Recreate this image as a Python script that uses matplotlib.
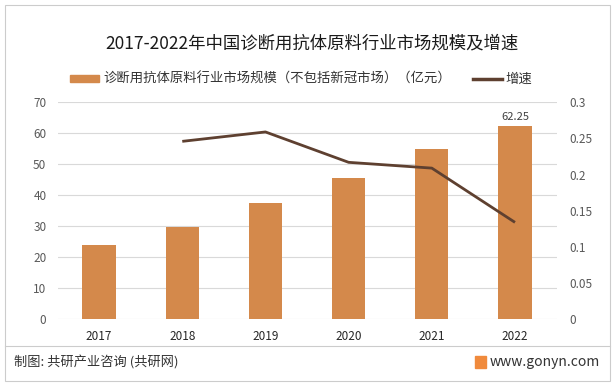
import numpy as np
import matplotlib
matplotlib.use('Agg')
import matplotlib.pyplot as plt
from matplotlib.patches import Rectangle
from matplotlib.lines import Line2D

plt.rcParams['font.family'] = ['Noto Sans CJK SC', 'DejaVu Sans']

years = ['2017', '2018', '2019', '2020', '2021', '2022']
market_size = [24.0, 29.9, 37.5, 45.6, 54.9, 62.25]
growth = [np.nan, 0.246, 0.259, 0.217, 0.209, 0.134]

bar_color = '#D4894B'
line_color = '#5E4030'

fig = plt.figure(figsize=(6.15, 3.86), dpi=100)
ax = fig.add_axes([0.0935, 0.1728, 0.8115, 0.5622])
ax2 = ax.twinx()

x = np.arange(len(years))
ax.bar(x, market_size, width=0.4, color=bar_color, zorder=2)
ax.text(x[-1], market_size[-1] + 1.5, '62.25', ha='center', va='bottom',
        fontsize=8, color='#404040')

ax2.plot(x, growth, color=line_color, lw=2, solid_capstyle='butt', zorder=3)

ax.set_xlim(-0.5, 5.5)
ax.set_ylim(0, 70)
ax.set_yticks(range(0, 71, 10))
ax2.set_ylim(0, 0.3)
ax2.set_yticks([0, 0.05, 0.1, 0.15, 0.2, 0.25, 0.3])
ax2.set_yticklabels(['0', '0.05', '0.1', '0.15', '0.2', '0.25', '0.3'])
ax.set_xticks(x)
ax.set_xticklabels(years)

ax.grid(axis='y', color='#d9d9d9', lw=0.8, zorder=0)
ax.set_axisbelow(True)
for a in (ax, ax2):
    for s in a.spines.values():
        s.set_visible(False)
    a.tick_params(length=0, labelsize=8.5, colors='#595959')
ax.tick_params(axis='y', pad=8)
ax2.tick_params(axis='y', pad=9)
ax.tick_params(axis='x', pad=8, colors='#262626')

# title and legend
fig.text(0.508, 0.888, '2017-2022年中国诊断用抗体原料行业市场规模及增速',
         ha='center', va='center', fontsize=12.5, color='#1a1a1a')
handles = [Rectangle((0, 0), 1, 1, color=bar_color),
           Line2D([], [], color=line_color, lw=2.5)]
fig.legend(handles, ['诊断用抗体原料行业市场规模（不包括新冠市场）（亿元）', '增速'],
           loc='center', bbox_to_anchor=(0.49, 0.795), ncol=2, frameon=False,
           fontsize=9.6, handlelength=2.2, handleheight=0.5, handletextpad=0.3,
           columnspacing=1.6, labelcolor='#333333')

# frame, separator and footer
fig.patches.append(Rectangle((0.008, 0.013), 0.984, 0.975, transform=fig.transFigure,
                             fill=False, edgecolor='#cccccc', lw=0.8))
fig.lines.append(Line2D([0.008, 0.992], [0.104, 0.104], transform=fig.transFigure,
                        color='#cccccc', lw=0.8))
fig.text(0.022, 0.062, '制图: 共研产业咨询 (共研网)', ha='left', va='center',
         fontsize=9.5, color='#333333')
fig.patches.append(Rectangle((0.772, 0.047), 0.019, 0.030, transform=fig.transFigure,
                             color='#f08a3c'))
fig.text(0.975, 0.062, 'www.gonyn.com', ha='right', va='center',
         fontsize=10, color='#333333')

fig.savefig('out.png', dpi=100)
